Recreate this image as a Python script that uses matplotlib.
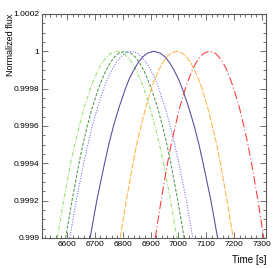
import numpy as np
from matplotlib import pyplot as plt
from matplotlib.ticker import MultipleLocator, FixedLocator

plt.rcParams['font.family'] = ['Liberation Sans', 'DejaVu Sans']

# flux levels (rising side, peak, falling side)
flux_up = [0.999, 0.9992, 0.9994, 0.9995, 0.9996, 0.9997, 0.9998,
           0.99985, 0.9999, 0.99994, 0.99997, 0.99999, 1.0]
flux = flux_up + flux_up[-2::-1]

# times for each curve, same order as flux
t_lightgreen = [6565, 6588, 6613, 6628, 6644, 6662, 6684, 6697, 6712, 6727, 6743, 6758, 6780,
                6802, 6817, 6833, 6848, 6863, 6876, 6898, 6916, 6932, 6947, 6972, 6995]
t_darkgreen = [6595, 6618, 6643, 6657, 6673, 6691, 6713, 6726, 6741, 6756, 6771, 6787, 6808,
               6829, 6845, 6860, 6875, 6890, 6903, 6925, 6943, 6959, 6973, 6998, 7021]
t_blue = [6610, 6633, 6660, 6675, 6691, 6710, 6732, 6745, 6761, 6777, 6793, 6809, 6831,
          6853, 6869, 6885, 6901, 6917, 6930, 6952, 6971, 6987, 7002, 7029, 7052]
t_purple = [6683, 6707, 6735, 6750, 6767, 6787, 6810, 6823, 6840, 6856, 6872, 6889, 6912,
            6935, 6952, 6968, 6984, 7001, 7014, 7037, 7057, 7074, 7089, 7117, 7141]
t_orange = [6791, 6813, 6837, 6850, 6866, 6883, 6903, 6915, 6930, 6944, 6959, 6974, 6994,
            7014, 7029, 7044, 7058, 7073, 7085, 7105, 7122, 7138, 7151, 7175, 7197]
t_red = [6917, 6938, 6961, 6974, 6989, 7005, 7025, 7037, 7050, 7064, 7078, 7092, 7112,
         7132, 7146, 7160, 7174, 7187, 7199, 7219, 7235, 7250, 7263, 7286, 7307]

yticks = [0.999, 0.9992, 0.9994, 0.9996, 0.9998, 1.0, 1.0002]
ylabels = ['0.999', '0.9992', '0.9994', '0.9996', '0.9998', '1', '1.0002']
xticks = [6600, 6700, 6800, 6900, 7000, 7100, 7200, 7300]

fig = plt.figure(figsize=(2.74, 2.68), dpi=100)
ax = fig.add_axes([0.153, 0.112, 0.818, 0.836])

lw = 0.75
ax.plot(t_lightgreen, flux, color='#8fe36a', lw=lw, dashes=(4, 1.5, 1, 1.5))
ax.plot(t_darkgreen, flux, color='#4f9a4f', lw=lw, dashes=(3, 1.5))
ax.plot(t_blue, flux, color='#6666ff', lw=lw, dashes=(1, 1.5))
ax.plot(t_purple, flux, color='#5c449c', lw=lw)
ax.plot(t_orange, flux, color='#ffb547', lw=lw, dashes=(6, 1.5))
ax.plot(t_red, flux, color='#ff3535', lw=lw, dashes=(8, 2.5, 1, 2.5))

ax.set_xlim(6510, 7315)
ax.set_ylim(0.999, 1.0002)

ax.xaxis.set_major_locator(FixedLocator(xticks))
ax.xaxis.set_minor_locator(MultipleLocator(20))
ax.yaxis.set_major_locator(FixedLocator(yticks))
ax.set_yticklabels(ylabels)
ax.yaxis.set_minor_locator(MultipleLocator(0.00005))

ax.tick_params(which='both', direction='in', top=True, right=True,
               labelsize=6, color='0.35', width=0.6, pad=2)
ax.tick_params(which='major', length=4.5)
ax.tick_params(which='minor', length=2.5)
for s in ax.spines.values():
    s.set_color('0.35')
    s.set_linewidth(0.8)

ax.set_ylabel('Normalized flux', fontsize=6.5)
ax.yaxis.set_label_coords(-0.12, 0.86)
ax.set_xlabel('Time [s]', fontsize=7)
ax.xaxis.set_label_coords(0.925, -0.075)

plt.savefig('out.png', dpi=100)
